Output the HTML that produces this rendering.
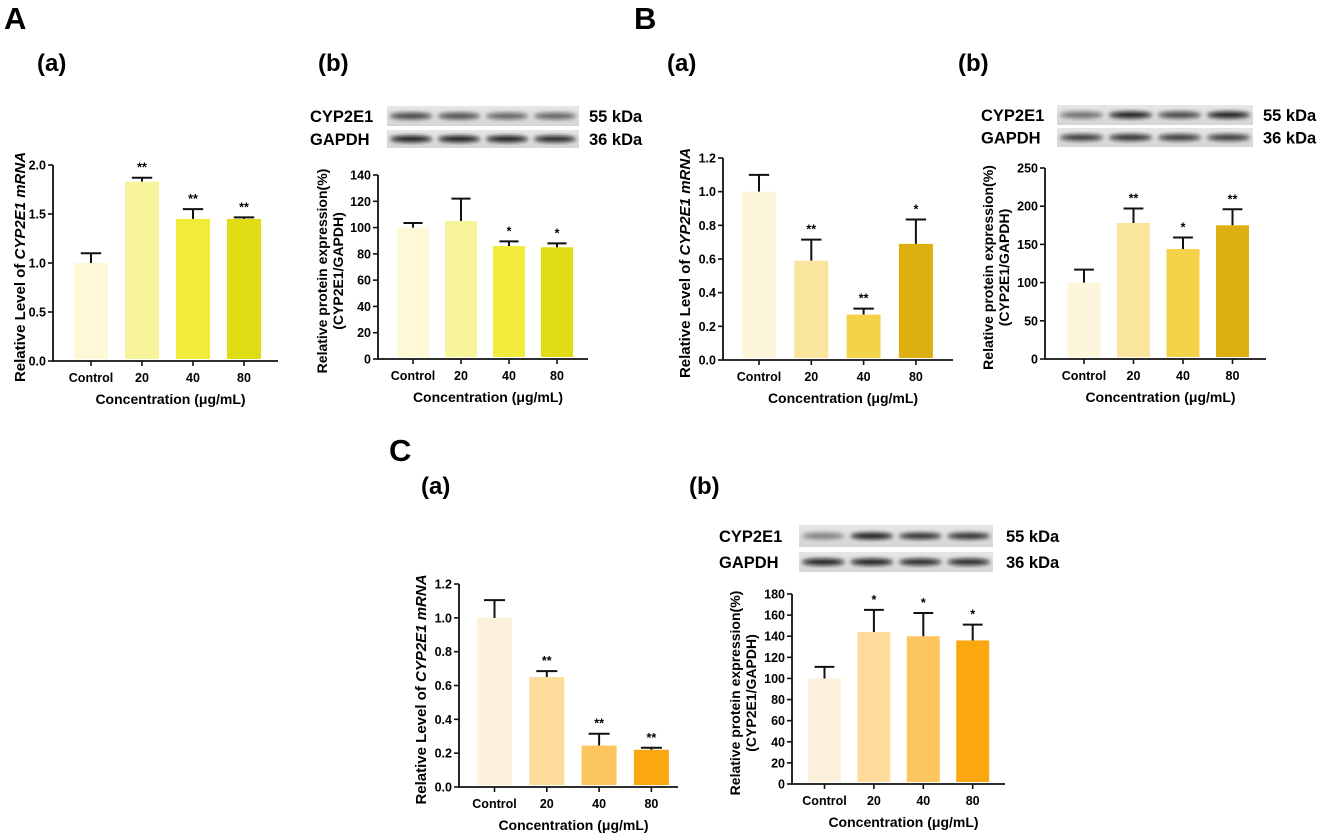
<!DOCTYPE html>
<html><head><meta charset="utf-8">
<style>
html,body{margin:0;padding:0;background:#fff;}
svg{display:block;font-family:"Liberation Sans",Arial,sans-serif;font-weight:bold;}
</style></head>
<body>
<svg id="fig" width="1325" height="836" viewBox="0 0 1325 836" xmlns="http://www.w3.org/2000/svg">
<defs>
<filter id="blur" x="-20%" y="-50%" width="140%" height="200%"><feGaussianBlur stdDeviation="2.2"/></filter>
<linearGradient id="blotbg" x1="0" y1="0" x2="0" y2="1"><stop offset="0" stop-color="#e6e6e6"/><stop offset="1" stop-color="#d6d6d6"/></linearGradient>
</defs>
<g id="labels">
<text x="4" y="29" font-size="31">A</text>
<text x="37" y="71" font-size="24">(a)</text>
<text x="318" y="71" font-size="24">(b)</text>
<text x="634" y="29" font-size="31">B</text>
<text x="667" y="71" font-size="24">(a)</text>
<text x="958" y="71" font-size="24">(b)</text>
<text x="389" y="461" font-size="31">C</text>
<text x="421" y="494" font-size="24">(a)</text>
<text x="689" y="494" font-size="24">(b)</text>
</g>
</svg>
<script>
const categories = ["Control", "20", "40", "80"];
const aaValues = [1.0, 1.83, 1.45, 1.45];
const aaErrors = [0.1, 0.04, 0.1, 0.015];
const aaSig = ["", "**", "**", "**"];
const abValues = [100, 105, 86, 85];
const abErrors = [3.5, 17, 3.5, 3];
const abSig = ["", "", "*", "*"];
const baValues = [1.0, 0.59, 0.27, 0.69];
const baErrors = [0.1, 0.125, 0.035, 0.145];
const baSig = ["", "**", "**", "*"];
const bbValues = [100, 178, 144, 175];
const bbErrors = [17, 19, 15, 21];
const bbSig = ["", "**", "*", "**"];
const caValues = [1.0, 0.65, 0.245, 0.22];
const caErrors = [0.105, 0.035, 0.07, 0.012];
const caSig = ["", "**", "**", "**"];
const cbValues = [100, 144, 140, 136];
const cbErrors = [11, 21, 22, 15];
const cbSig = ["", "*", "*", "*"];
const aaTicks = ["0.0", "0.5", "1.0", "1.5", "2.0"];
const abTicks = ["0", "20", "40", "60", "80", "100", "120", "140"];
const baTicks = ["0.0", "0.2", "0.4", "0.6", "0.8", "1.0", "1.2"];
const bbTicks = ["0", "50", "100", "150", "200", "250"];
const caTicks = ["0.0", "0.2", "0.4", "0.6", "0.8", "1.0", "1.2"];
const cbTicks = ["0", "20", "40", "60", "80", "100", "120", "140", "160", "180"];

const NS = "http://www.w3.org/2000/svg";
const svg = document.getElementById("fig");
function mk(tag, attrs, parent, txt) {
  const e = document.createElementNS(NS, tag);
  for (const k in attrs) e.setAttribute(k, attrs[k]);
  if (txt !== undefined) e.textContent = txt;
  parent.appendChild(e);
  return e;
}

function chart(id, cfg, values, errors, sig, ticks) {
  const g = mk("g", {}, svg);
  
  
  const maxV = parseFloat(ticks[ticks.length - 1]);
  const y = v => cfg.y0 - (v / maxV) * (cfg.y0 - cfg.yTop);
  const x = i => cfg.c0 + i * cfg.step;
  values.forEach((v, i) => {
    const b = mk("rect", {x: x(i) - cfg.bw / 2, y: y(v), width: cfg.bw, height: cfg.y0 - y(v) - 2, fill: cfg.colors[i]}, g);
    
    
    const top = y(v + errors[i]);
    const eb = mk("path", {d: `M${x(i)},${y(v)}V${top}M${x(i) - cfg.bw * 0.3},${top}H${x(i) + cfg.bw * 0.3}`, stroke: "#111", "stroke-width": 2, fill: "none"}, g);
    
    
    if (sig[i]) {
      const s = mk("text", {x: x(i), y: top - 6, "text-anchor": "middle", "font-size": 12.5}, g, sig[i]);
      
      
    }
    const tl = mk("text", {x: x(i), y: cfg.y0 + 21, "text-anchor": "middle", "font-size": 12.5}, g, categories[i]);
    
    
    mk("line", {x1: x(i), x2: x(i), y1: cfg.y0, y2: cfg.y0 + 5, stroke: "#111", "stroke-width": 1.6}, g);
  });
  const ax = mk("path", {d: `M${cfg.ax},${cfg.yTop}V${cfg.y0}H${cfg.xEnd}`, stroke: "#111", "stroke-width": 1.8, fill: "none"}, g);
  
  
  ticks.forEach(t => {
    const ty = y(parseFloat(t));
    mk("line", {x1: cfg.ax - 5, x2: cfg.ax, y1: ty, y2: ty, stroke: "#111", "stroke-width": 1.6}, g);
    const l = mk("text", {x: cfg.ax - 7, y: ty + 4.5, "text-anchor": "end", "font-size": 12.5}, g, t);
    
    
  });
  const xt = mk("text", {x: (cfg.ax + cfg.xEnd) / 2 + 5, y: cfg.y0 + 43, "text-anchor": "middle", "font-size": 14}, g, "Concentration (μg/mL)");
  
  
  const cy = (cfg.y0 + cfg.yTop) / 2 + 4;
  const yt = mk("text", {transform: `translate(${cfg.ytx},${cy}) rotate(-90)`, "text-anchor": "middle", "font-size": cfg.mrna ? 15 : 14}, g);
  
  
  if (cfg.mrna) {
    mk("tspan", {}, yt, "Relative Level of ");
    mk("tspan", {"font-style": "italic"}, yt, "CYP2E1 mRNA");
  } else {
    mk("tspan", {x: 0, dy: -3}, yt, "Relative protein expression(%)");
    mk("tspan", {x: 0, dy: 16}, yt, "(CYP2E1/GAPDH)");
  }
}

function blot(id, b, cypInt, gapInt) {
  const g = mk("g", {}, svg);
  
  
  const rows = [[b.y1, b.h1, cypInt, "CYP2E1", "55 kDa"], [b.y2, b.h2, gapInt, "GAPDH", "36 kDa"]];
  rows.forEach(r => {
    mk("rect", {x: b.x, y: r[0], width: b.w, height: r[1], fill: "url(#blotbg)"}, g);
    const lw = b.w / 4;
    r[2].forEach((a, i) => {
      mk("ellipse", {cx: b.x + lw * (i + 0.5), cy: r[0] + r[1] / 2, rx: lw * 0.44, ry: 3.2, fill: "#111", opacity: a, filter: "url(#blur)"}, g);
    });
    const t = mk("text", {x: b.lx, y: r[0] + r[1] / 2 + 6, "font-size": 16.5}, g, r[3]);
    
    
    const k = mk("text", {x: b.kx, y: r[0] + r[1] / 2 + 6, "font-size": 16.5}, g, r[4]);
    
    
  });
}

chart("panel-A-a", {ax: 53, xEnd: 278, y0: 361, yTop: 165, c0: 91, step: 51, bw: 34, ytx: 25, mrna: true,
  colors: ["#fdf9d6", "#f8f49a", "#f1eb3c", "#e0dc14"]}, aaValues, aaErrors, aaSig, aaTicks);
chart("panel-A-b", {ax: 378, xEnd: 588, y0: 359, yTop: 175, c0: 413, step: 48, bw: 32, ytx: 330, mrna: false,
  colors: ["#fdf9d6", "#f8f49a", "#f1eb3c", "#e0dc14"]}, abValues, abErrors, abSig, abTicks);
chart("panel-B-a", {ax: 723, xEnd: 953, y0: 360, yTop: 158, c0: 759, step: 52.3, bw: 34, ytx: 690, mrna: true,
  colors: ["#fdf6dc", "#fae59e", "#f4d24a", "#dcb010"]}, baValues, baErrors, baSig, baTicks);
chart("panel-B-b", {ax: 1045, xEnd: 1266, y0: 359, yTop: 168, c0: 1084, step: 49.5, bw: 33, ytx: 996, mrna: false,
  colors: ["#fdf6dc", "#fae59e", "#f4d24a", "#dcb010"]}, bbValues, bbErrors, bbSig, bbTicks);
chart("panel-C-a", {ax: 459, xEnd: 678, y0: 787, yTop: 584, c0: 494.5, step: 52.3, bw: 35, ytx: 426, mrna: true,
  colors: ["#fdf0dc", "#fddc9c", "#fdc55e", "#fba710"]}, caValues, caErrors, caSig, caTicks);
chart("panel-C-b", {ax: 792, xEnd: 1005, y0: 784, yTop: 594, c0: 824.5, step: 49.4, bw: 33, ytx: 743, mrna: false,
  colors: ["#fdf0dc", "#fddc9c", "#fdc55e", "#fba710"]}, cbValues, cbErrors, cbSig, cbTicks);

blot("panel-A-b", {x: 387, w: 192, y1: 106, h1: 20, y2: 130, h2: 18, lx: 310, kx: 589}, [0.75, 0.7, 0.6, 0.6], [0.95, 0.95, 0.95, 0.9]);
blot("panel-B-b", {x: 1057, w: 196, y1: 105, h1: 20, y2: 128, h2: 19, lx: 981, kx: 1263}, [0.55, 0.95, 0.75, 0.95], [0.8, 0.85, 0.8, 0.8]);
blot("panel-C-b", {x: 799, w: 194, y1: 525, h1: 22, y2: 552, h2: 20, lx: 719, kx: 1006}, [0.45, 0.95, 0.85, 0.85], [0.95, 0.95, 0.9, 0.9]);
</script>
</body></html>
